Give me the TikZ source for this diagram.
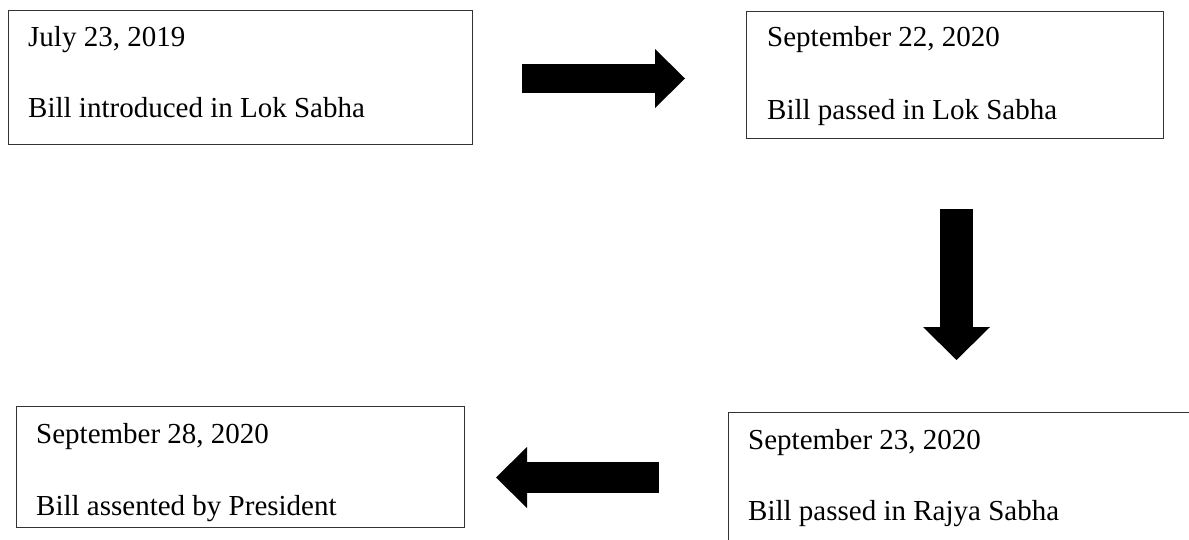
\documentclass[tikz,border=0pt]{standalone}
\usepackage{fontspec}
\setmainfont{Liberation Serif}
\usetikzlibrary{arrows.meta,calc}

\begin{document}
\begin{tikzpicture}[x=1pt, y=-1pt,
    box/.style={draw=black!80, line width=1.4pt, inner sep=0pt, anchor=north west},
    txt/.style={anchor=base west, inner sep=0pt, font=\fontsize{29}{35}\selectfont},
    fat/.style n args={3}{line width=#1, -{Triangle[width=#2, length=#3, line width=0pt]}}
]
\useasboundingbox (0,0) rectangle (1189,540);
\clip (0,0) rectangle (1189,540);

% the four steps of the bill
\node[box, minimum width=464pt, minimum height=134pt] (intro) at (8,10) {};
\node[box, minimum width=417pt, minimum height=127pt] (lok) at (746,11) {};
\node[box, minimum width=472pt, minimum height=148pt] (rajya) at (728,412) {};
\node[box, minimum width=448pt, minimum height=121pt] (assent) at (16,406) {};

\node[txt] (intro-date) at ($(intro.north west)+(20,37)$) {July 23, 2019};
\node[txt] (intro-what) at ($(intro.north west)+(20,108)$) {Bill introduced in Lok Sabha};
\node[txt] (lok-date) at ($(lok.north west)+(21,36)$) {September 22, 2020};
\node[txt] (lok-what) at ($(lok.north west)+(21,109)$) {Bill passed in Lok Sabha};
\node[txt] (rajya-date) at ($(rajya.north west)+(20,37)$) {September 23, 2020};
\node[txt] (rajya-what) at ($(rajya.north west)+(20,108)$) {Bill passed in Rajya Sabha};
\node[txt] (assent-date) at ($(assent.north west)+(20,37)$) {September 28, 2020};
\node[txt] (assent-what) at ($(assent.north west)+(20,109)$) {Bill assented by President};

% block arrows between the steps
\coordinate (r-from) at (522,78.5);
\coordinate (r-to) at (685,78.5);
\coordinate (d-from) at (956.5,209);
\coordinate (d-to) at (956.5,360);
\coordinate (l-from) at (659,477.5);
\coordinate (l-to) at (496,477.5);

\draw[fat={29pt}{59pt}{30pt}] (r-from) -- (r-to);
\draw[fat={33pt}{67pt}{33pt}] (d-from) -- (d-to);
\draw[fat={31pt}{61pt}{31pt}] (l-from) -- (l-to);

\end{tikzpicture}
\end{document}
